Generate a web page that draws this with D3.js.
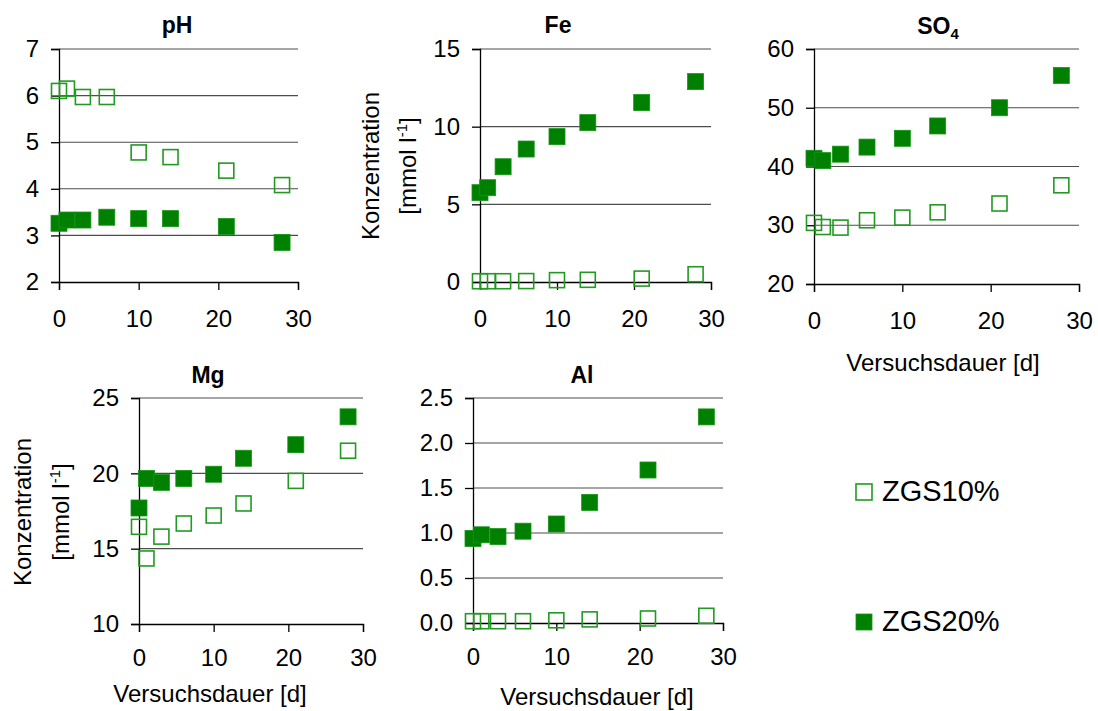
<!DOCTYPE html>
<html>
<head>
<meta charset="utf-8">
<style>
  body { margin: 0; background: #fff; font-family: "Liberation Sans", Arial, sans-serif; }
  .grid line { stroke: #4d4d4d; stroke-width: 1.1; }
  .axis path, .axis line { stroke: #000; stroke-width: 1.3; }
  .axis text { font-size: 24px; fill: #000; }
  .title { font-size: 23px; font-weight: bold; }
  .atitle { font-size: 24px; }
  .legend text { font-size: 29px; }
</style>
<script src="https://cdn.jsdelivr.net/npm/d3@7"></script>
</head>
<body>
<script>
// sampling days
var days = [0, 1, 3, 6, 10, 14, 21, 28];
var xTicks = [0, 10, 20, 30];
var seriesNames = ["ZGS10%", "ZGS20%"];

// values per parameter, order: ZGS10%, ZGS20%
var phZGS10 = [6.1, 6.15, 5.97, 5.97, 4.78, 4.68, 4.39, 4.08];
var phZGS20 = [3.26, 3.33, 3.33, 3.39, 3.36, 3.36, 3.19, 2.85];
var feZGS10 = [0.05, 0.05, 0.05, 0.06, 0.12, 0.14, 0.22, 0.5];
var feZGS20 = [5.75, 6.07, 7.42, 8.56, 9.36, 10.26, 11.55, 12.9];
var so4ZGS10 = [30.4, 29.7, 29.6, 30.85, 31.3, 32.2, 33.7, 36.8];
var so4ZGS20 = [41.4, 41.0, 42.1, 43.3, 44.8, 46.9, 50.0, 55.5];
var mgZGS10 = [16.45, 14.35, 15.8, 16.67, 17.2, 18.0, 19.5, 21.5];
var mgZGS20 = [17.7, 19.66, 19.4, 19.66, 19.94, 21.0, 21.9, 23.75];
var alZGS10 = [0.02, 0.02, 0.02, 0.02, 0.03, 0.04, 0.05, 0.08];
var alZGS20 = [0.94, 0.98, 0.96, 1.02, 1.10, 1.34, 1.70, 2.29];

var phTicks = [2, 3, 4, 5, 6, 7];
var feTicks = [0, 5, 10, 15];
var so4Ticks = [20, 30, 40, 50, 60];
var mgTicks = [10, 15, 20, 25];
var alTicks = [0, 0.5, 1.0, 1.5, 2.0, 2.5];

var W = 1098, H = 711;
var svg = d3.select("body").append("svg").attr("width", W).attr("height", H);

var panels = [
  { title: "pH", sub: null, s10: phZGS10, s20: phZGS20, ticks: phTicks, fmt: d3.format("d"),
    x0: 59, x1: 298, yt: 49, yb: 282, pad: 20, tx: 177, ty: 33 },
  { title: "Fe", sub: null, s10: feZGS10, s20: feZGS20, ticks: feTicks, fmt: d3.format("d"),
    x0: 480, x1: 711, yt: 49, yb: 282, pad: 20, tx: 558, ty: 33,
    ylab: { x1: 370, x2: 407, y: 166 } },
  { title: "SO", sub: "4", s10: so4ZGS10, s20: so4ZGS20, ticks: so4Ticks, fmt: d3.format("d"),
    x0: 814, x1: 1079, yt: 49, yb: 284, pad: 20, tx: 938, ty: 34,
    xlab: { x: 943, y: 371 } },
  { title: "Mg", sub: null, s10: mgZGS10, s20: mgZGS20, ticks: mgTicks, fmt: d3.format("d"),
    x0: 139, x1: 363, yt: 398, yb: 624, pad: 17, tx: 208, ty: 383,
    ylab: { x1: 22, x2: 60, y: 512 }, xlab: { x: 210, y: 702 } },
  { title: "Al", sub: null, s10: alZGS10, s20: alZGS20, ticks: alTicks, fmt: d3.format(".1f"),
    x0: 473, x1: 723, yt: 398, yb: 623, pad: 17, tx: 582, ty: 383,
    xlab: { x: 597, y: 705 } }
];

var green = "#008000", openGreen = "#229a22";

function square(g, data, x, y, filled) {
  var s = filled ? 16 : 15;
  g.selectAll(null).data(data).enter().append("rect")
    .attr("x", function(d) { return x(d.t) - s / 2; })
    .attr("y", function(d) { return y(d.v) - s / 2; })
    .attr("width", s).attr("height", s)
    .attr("fill", filled ? green : "none")
    .attr("stroke", filled ? "#159515" : openGreen)
    .attr("stroke-width", filled ? 0.8 : 1.6);
}

panels.forEach(function(p) {
  var x = d3.scaleLinear().domain([0, 30]).range([p.x0, p.x1]);
  var y = d3.scaleLinear().domain(d3.extent(p.ticks)).range([p.yb, p.yt]);
  var g = svg.append("g");

  // horizontal grid
  g.append("g").attr("class", "grid").selectAll("line").data(p.ticks.slice(1)).enter().append("line")
    .attr("x1", p.x0).attr("x2", p.x1)
    .attr("y1", function(d) { return y(d); }).attr("y2", function(d) { return y(d); });

  g.append("g").attr("class", "axis")
    .attr("transform", "translate(0," + p.yb + ")")
    .call(d3.axisBottom(x).tickValues(xTicks).tickSizeOuter(0).tickSize(8).tickPadding(p.pad));

  g.append("g").attr("class", "axis")
    .attr("transform", "translate(" + p.x0 + ",0)")
    .call(d3.axisLeft(y).tickValues(p.ticks).tickFormat(p.fmt).tickSizeOuter(0).tickSize(8).tickPadding(12));

  var t = g.append("text").attr("class", "title").attr("x", p.tx).attr("y", p.ty)
    .attr("text-anchor", "middle").text(p.title);
  if (p.sub) t.append("tspan").attr("dy", 5).style("font-size", "15px").text(p.sub);

  if (p.ylab) {
    g.append("text").attr("class", "atitle").attr("text-anchor", "middle")
      .attr("transform", "translate(" + (p.ylab.x1 + 9) + "," + p.ylab.y + ") rotate(-90)")
      .text("Konzentration");
    var yl = g.append("text").attr("class", "atitle").attr("text-anchor", "middle")
      .attr("transform", "translate(" + (p.ylab.x2 + 9) + "," + p.ylab.y + ") rotate(-90)");
    yl.append("tspan").text("[mmol l");
    yl.append("tspan").attr("dy", -9).style("font-size", "15px").text("-1");
    yl.append("tspan").attr("dy", 9).text("]");
  }
  if (p.xlab) {
    g.append("text").attr("class", "atitle").attr("text-anchor", "middle")
      .attr("x", p.xlab.x).attr("y", p.xlab.y).text("Versuchsdauer [d]");
  }

  var d10 = days.map(function(t, i) { return { t: t, v: p.s10[i] }; });
  var d20 = days.map(function(t, i) { return { t: t, v: p.s20[i] }; });
  square(g, d10, x, y, false);
  square(g, d20, x, y, true);
});

// legend
var lg = svg.append("g").attr("class", "legend");
var legY = [492, 622];
seriesNames.forEach(function(name, i) {
  lg.append("rect").attr("x", 864 - 8).attr("y", legY[i] - 8).attr("width", 16).attr("height", 16)
    .attr("fill", i ? green : "#fff").attr("stroke", i ? "#159515" : openGreen)
    .attr("stroke-width", i ? 0.8 : 1.6);
  lg.append("text").attr("x", 882).attr("y", legY[i] + 9).text(name);
});
</script>
</body>
</html>
